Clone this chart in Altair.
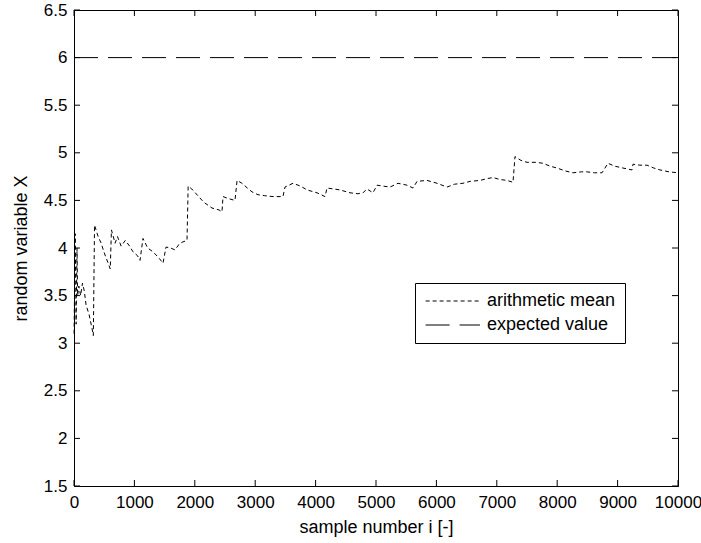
import altair as alt
import pandas as pd

# sample number i and running arithmetic mean
sample_i = [1, 20, 35, 50, 60, 80, 110, 140, 170, 200, 250, 300, 320, 340, 400, 450, 500, 560, 600,
            620, 680, 720, 780, 850, 920, 977, 1050, 1093, 1142, 1220, 1308, 1400, 1474, 1523, 1600,
            1672, 1740, 1788, 1871, 1890, 1950, 2050, 2150, 2285, 2400, 2450, 2467, 2550, 2665, 2700,
            2781, 2870, 2947, 3046, 3150, 3295, 3460, 3493, 3626, 3750, 3858, 4023, 4156, 4189, 4300,
            4404, 4570, 4700, 4785, 4851, 4950, 5017, 5120, 5232, 5364, 5513, 5613, 5680, 5844, 6010,
            6175, 6300, 6440, 6560, 6722, 6850, 6937, 7050, 7169, 7268, 7301, 7400, 7500, 7650, 7765,
            7880, 7997, 8130, 8262, 8400, 8493, 8620, 8742, 8841, 8950, 9089, 9238, 9255, 9370, 9487,
            9600, 9702, 9850, 10000]
arith_mean = [3.10, 4.15, 3.20, 4.00, 3.50, 3.60, 3.50, 3.63, 3.55, 3.40, 3.30, 3.15, 3.08, 4.24, 4.12,
              4.05, 3.95, 3.85, 3.78, 4.19, 4.05, 4.12, 4.02, 4.08, 4.02, 3.96, 3.92, 3.87, 4.10, 4.00,
              3.96, 3.90, 3.84, 4.01, 4.00, 3.98, 4.04, 4.06, 4.08, 4.65, 4.62, 4.55, 4.48, 4.42, 4.40,
              4.38, 4.54, 4.52, 4.50, 4.71, 4.68, 4.63, 4.59, 4.56, 4.55, 4.54, 4.54, 4.64, 4.68, 4.65,
              4.61, 4.58, 4.54, 4.63, 4.62, 4.61, 4.58, 4.57, 4.58, 4.62, 4.58, 4.66, 4.65, 4.64, 4.68,
              4.66, 4.63, 4.70, 4.71, 4.68, 4.64, 4.67, 4.68, 4.70, 4.71, 4.73, 4.74, 4.72, 4.71, 4.69,
              4.96, 4.92, 4.90, 4.90, 4.89, 4.86, 4.84, 4.81, 4.79, 4.80, 4.80, 4.79, 4.79, 4.89, 4.86,
              4.84, 4.82, 4.88, 4.87, 4.87, 4.84, 4.82, 4.80, 4.79]
expected_i = [0, 10000]
expected_value = [6.0, 6.0]
series_names = ["arithmetic mean", "expected value"]
x_ticks = [0, 1000, 2000, 3000, 4000, 5000, 6000, 7000, 8000, 9000, 10000]
y_ticks = [1.5, 2, 2.5, 3, 3.5, 4, 4.5, 5, 5.5, 6, 6.5]

W, H = 604, 476
FONT = "Liberation Sans"
FS = 17
TICK = 6

df = pd.concat([
    pd.DataFrame({"i": sample_i, "X": arith_mean, "series": series_names[0]}),
    pd.DataFrame({"i": expected_i, "X": expected_value, "series": series_names[1]}),
], ignore_index=True)

xscale = alt.Scale(domain=[0, 10000], nice=False)
yscale = alt.Scale(domain=[1.5, 6.5], nice=False, zero=False)
x_axis = alt.Axis(values=x_ticks, ticks=False, grid=False, labelPadding=8,
                  titlePadding=8, labelFlush=False, format="d")
y_axis = alt.Axis(values=y_ticks, ticks=False, grid=False, labelPadding=7,
                  titlePadding=13, format="~g")
XT = "sample number i [-]"
YT = "random variable X"

lines = alt.Chart(df).mark_line(strokeWidth=1, color="black").encode(
    x=alt.X("i:Q", scale=xscale, title=XT, axis=x_axis),
    y=alt.Y("X:Q", scale=yscale, title=YT, axis=y_axis),
    strokeDash=alt.StrokeDash(
        "series:N",
        scale=alt.Scale(domain=series_names, range=[[4, 3], [24, 10]]),
        legend=alt.Legend(title=None, orient="none", legendX=341, legendY=273,
                          strokeColor="black", fillColor="white", padding=9,
                          cornerRadius=0, symbolType="M-2.2,0H14", symbolSize=45,
                          symbolStrokeColor="black", symbolStrokeWidth=1,
                          labelFont=FONT, labelFontSize=18, labelColor="black",
                          labelOffset=45, rowPadding=6),
    ),
    detail="series:N",
)

tick_x = pd.DataFrame({"i": x_ticks})
tick_y = pd.DataFrame({"X": y_ticks})
rule = dict(color="black", strokeWidth=1)

bottom = alt.Chart(tick_x).mark_rule(**rule).encode(
    x=alt.X("i:Q", scale=xscale, title=XT, axis=x_axis), y=alt.value(H), y2=alt.value(H - TICK))
top = alt.Chart(tick_x).mark_rule(**rule).encode(
    x=alt.X("i:Q", scale=xscale, title=XT, axis=x_axis), y=alt.value(0), y2=alt.value(TICK))
left = alt.Chart(tick_y).mark_rule(**rule).encode(
    y=alt.Y("X:Q", scale=yscale, title=YT, axis=y_axis), x=alt.value(0), x2=alt.value(TICK))
right = alt.Chart(tick_y).mark_rule(**rule).encode(
    y=alt.Y("X:Q", scale=yscale, title=YT, axis=y_axis), x=alt.value(W), x2=alt.value(W - TICK))

chart = alt.layer(lines, bottom, top, left, right).properties(
    width=W, height=H,
    padding={"left": 74, "top": 10, "right": 23, "bottom": 57},
    autosize=alt.AutoSizeParams(type="none"),
    background="white",
).configure_view(stroke="black", strokeWidth=1).configure_axis(
    labelFont=FONT, labelFontSize=FS, labelColor="black",
    titleFont=FONT, titleFontSize=18, titleFontWeight="normal", titleColor="black",
    domainColor="black", domainWidth=1,
)

chart.save("out.html", embed_options={"renderer": "svg", "actions": False})
